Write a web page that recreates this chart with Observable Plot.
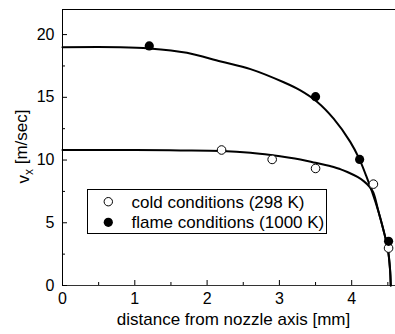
<!DOCTYPE html>
<html><head><meta charset="utf-8">
<script src="https://cdn.jsdelivr.net/npm/d3@7"></script>
<script src="https://cdn.jsdelivr.net/npm/@observablehq/plot@0.6"></script>
<style>
body{margin:0;background:#fff;}
#chart{width:395px;height:334px;overflow:hidden;position:relative;}
</style>
</head><body><div id="chart"></div>
<script>
// measured points
const coldX = [2.2, 2.9, 3.5, 4.3, 4.51];
const coldY = [10.8, 10.05, 9.33, 8.08, 2.98];
const flameX = [1.2, 3.5, 4.11, 4.51];
const flameY = [19.1, 15.05, 10.05, 3.52];
// fitted curves
const flameCurveX = [0, 0.8, 1.2, 1.72, 2.19, 2.6, 3.06, 3.29, 3.52, 3.75, 3.98, 4.10, 4.21, 4.28, 4.37, 4.44, 4.50, 4.53, 4.54];
const flameCurveY = [19.0, 19.0, 18.9, 18.55, 17.85, 17.25, 16.2, 15.55, 14.65, 13.3, 11.45, 10.15, 8.6, 7.5, 5.9, 4.4, 2.9, 1.3, 0];
const coldCurveX = [0, 1.0, 1.63, 2.2, 2.6, 2.88, 3.29, 3.5, 3.75, 3.84, 3.94, 4.08, 4.17, 4.25, 4.30, 4.37, 4.44, 4.50, 4.53, 4.54];
const coldCurveY = [10.8, 10.8, 10.77, 10.72, 10.58, 10.4, 10.05, 9.78, 9.45, 9.28, 9.05, 8.65, 8.3, 7.85, 7.4, 5.9, 4.4, 2.9, 1.3, 0];
// ticks and labels
const xMajor = [0, 1, 2, 3, 4];
const xMinor = [0.5, 1.5, 2.5, 3.5, 4.5];
const yMajor = [0, 5, 10, 15, 20];
const yMinor = [2.5, 7.5, 12.5, 17.5];
const xTitle = "distance from nozzle axis [mm]";
const yTitleMain = "v";
const yTitleSub = "x";
const yTitleUnit = " [m/sec]";
const seriesNames = ["cold conditions (298 K)", "flame conditions (1000 K)"];

const W = 395, H = 334, mL = 62, mR = 0, mT = 9, mB = 49;
const pw = W - mL - mR, ph = H - mT - mB;

const svg = Plot.plot({
  width: W, height: H,
  marginLeft: mL, marginRight: mR, marginTop: mT, marginBottom: mB,
  style: {fontFamily: "'Liberation Sans', Arial, sans-serif", fontSize: "16px", color: "#000", background: "#fff"},
  x: {domain: [0, pw / 72.3]},
  y: {domain: [0, 22]},
  marks: [
    Plot.ruleY([22], {stroke: "#000", strokeWidth: 1}),
    Plot.ruleX([0], {stroke: "#000", strokeWidth: 1}),
    Plot.ruleY([0], {stroke: "#333", strokeWidth: 1.2}),
    Plot.tickY(yMajor, {y: d => d, insetRight: pw - 5, stroke: "#000"}),
    Plot.tickY(yMinor, {y: d => d, insetRight: pw - 3, stroke: "#000"}),
    Plot.tickX(xMajor, {x: d => d, insetTop: ph - 5, stroke: "#000"}),
    Plot.tickX(xMinor, {x: d => d, insetTop: ph - 3, stroke: "#000"}),
    Plot.axisY(yMajor, {tickSize: 0, tickPadding: 8, label: null, fontSize: 16}),
    Plot.axisX(xMajor, {tickSize: 0, tickPadding: 7, label: null, fontSize: 16}),
    Plot.text([xTitle], {frameAnchor: "bottom", dy: 39, dx: 4.5, fontSize: 17}),
    Plot.line(coldCurveX, {x: coldCurveX, y: coldCurveY, curve: "catmull-rom", stroke: "#000", strokeWidth: 2}),
    Plot.line(flameCurveX, {x: flameCurveX, y: flameCurveY, curve: "catmull-rom", stroke: "#000", strokeWidth: 2}),
    Plot.dot(coldX, {x: coldX, y: coldY, r: 4.3, fill: "#fff", stroke: "#000", strokeWidth: 1}),
    Plot.dot(flameX, {x: flameX, y: flameY, r: 4.6, fill: "#000", stroke: "none"})
  ]
});

const s = d3.select(svg);
// y-axis title with subscript
const yt = s.append("text")
  .attr("transform", "translate(23,146.5) rotate(-90)")
  .attr("text-anchor", "middle")
  .attr("dy", "0.35em")
  .attr("font-size", 17)
  .attr("fill", "#000");
yt.append("tspan").text(yTitleMain);
yt.append("tspan").attr("font-size", 12).attr("dy", "0.3em").text(yTitleSub);
yt.append("tspan").attr("dy", "-0.3em").text(yTitleUnit);

// legend
const lg = s.append("g");
lg.append("rect").attr("x", 87.5).attr("y", 189.5).attr("width", 239).attr("height", 44)
  .attr("fill", "#fff").attr("stroke", "#000").attr("stroke-width", 1);
const rows = [201.7, 222.3];
lg.append("circle").attr("cx", 108.3).attr("cy", rows[0]).attr("r", 4.2).attr("fill", "#fff").attr("stroke", "#000");
lg.append("circle").attr("cx", 108.3).attr("cy", rows[1]).attr("r", 4.6).attr("fill", "#000");
seriesNames.forEach((t, i) => {
  lg.append("text").attr("x", 131.5).attr("y", rows[i]).attr("dy", "0.35em")
    .attr("text-anchor", "start")
    .attr("font-size", 17).attr("fill", "#000").text(t);
});

document.getElementById("chart").appendChild(svg);
</script>
</body></html>
